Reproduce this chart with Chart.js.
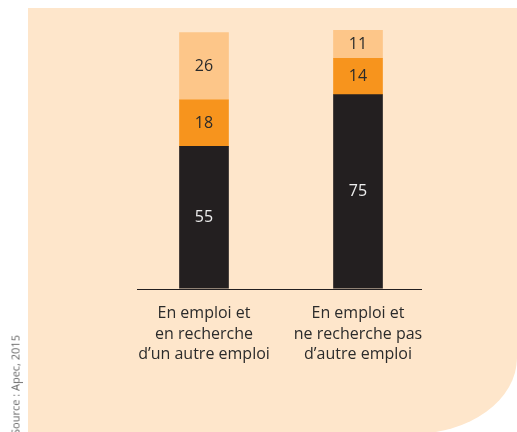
<!DOCTYPE html>
<html>
<head>
<meta charset="utf-8">
<script src="https://cdn.jsdelivr.net/npm/chart.js@4"></script>
<style>
  html, body { margin: 0; padding: 0; background: #fff; }
  body { width: 517px; height: 432px; position: relative; overflow: hidden; font-family: "Open Sans", sans-serif; }
  #panel { position: absolute; left: 28px; top: 8px; width: 489px; height: 426px; background: #fee6cb; border-bottom-right-radius: 105px 76px; }
  #wrap { position: absolute; left: 0; top: 0; width: 517px; height: 432px; }
  #source { position: absolute; left: 15px; top: 385px; transform: translate(-50%, -50%) rotate(-90deg); white-space: nowrap; font-size: 11px; color: #666; }
</style>
</head>
<body>
<div id="panel"></div>
<div id="wrap"><canvas id="chart"></canvas></div>
<div id="source">Source : Apec, 2015</div>
<script>
const categories = [
    ['En emploi et', 'en recherche', 'd\u2019un autre emploi'],
    ['En emploi et', 'ne recherche pas', 'd\u2019autre emploi']
];
const seriesDark = [55, 75];
const seriesOrange = [18, 14];
const seriesLight = [26, 11];

const colors = {
    dark: '#231f20',
    orange: '#f7941d',
    light: '#fdc689',
    text: '#2b2b2b'
};

// value labels in the middle of each segment
const valueLabels = {
    id: 'valueLabels',
    afterDatasetsDraw(chart) {
        const ctx = chart.ctx;
        ctx.save();
        ctx.font = '16px "Open Sans"';
        ctx.textAlign = 'center';
        ctx.textBaseline = 'middle';
        chart.data.datasets.forEach((ds, i) => {
            chart.getDatasetMeta(i).data.forEach((bar, j) => {
                const p = bar.getProps(['x', 'y', 'base'], true);
                ctx.fillStyle = i === 0 ? '#eeeeee' : colors.text;
                ctx.fillText(ds.data[j], p.x, (p.y + p.base) / 2);
            });
        });
        ctx.restore();
    }
};

// baseline under the bars
const baseLine = {
    id: 'baseLine',
    afterDatasetsDraw(chart) {
        const { ctx, chartArea, scales } = chart;
        const y = Math.round(scales.y.getPixelForValue(0)) + 0.5;
        ctx.save();
        ctx.strokeStyle = colors.dark;
        ctx.lineWidth = 1;
        ctx.beginPath();
        ctx.moveTo(chartArea.left + 10, y);
        ctx.lineTo(chartArea.right - 13, y);
        ctx.stroke();
        ctx.restore();
    }
};

new Chart(document.getElementById('chart'), {
    type: 'bar',
    data: {
        labels: categories,
        datasets: [
            { data: seriesDark, backgroundColor: colors.dark },
            { data: seriesOrange, backgroundColor: colors.orange },
            { data: seriesLight, backgroundColor: colors.light }
        ]
    },
    options: {
        responsive: true,
        maintainAspectRatio: false,
        animation: false,
        layout: { padding: { left: 127, right: 82, top: 30, bottom: 60 } },
        plugins: { legend: { display: false }, tooltip: { enabled: false } },
        datasets: { bar: { barThickness: 49 } },
        scales: {
            x: {
                stacked: true,
                grid: { display: false },
                border: { display: false },
                ticks: {
                    color: colors.text,
                    font: { family: 'Open Sans', size: 16, lineHeight: 1.28 },
                    padding: 7,
                    maxRotation: 0
                }
            },
            y: { stacked: true, display: false, min: 0, max: 100 }
        }
    },
    plugins: [valueLabels, baseLine]
});
</script>
</body>
</html>
